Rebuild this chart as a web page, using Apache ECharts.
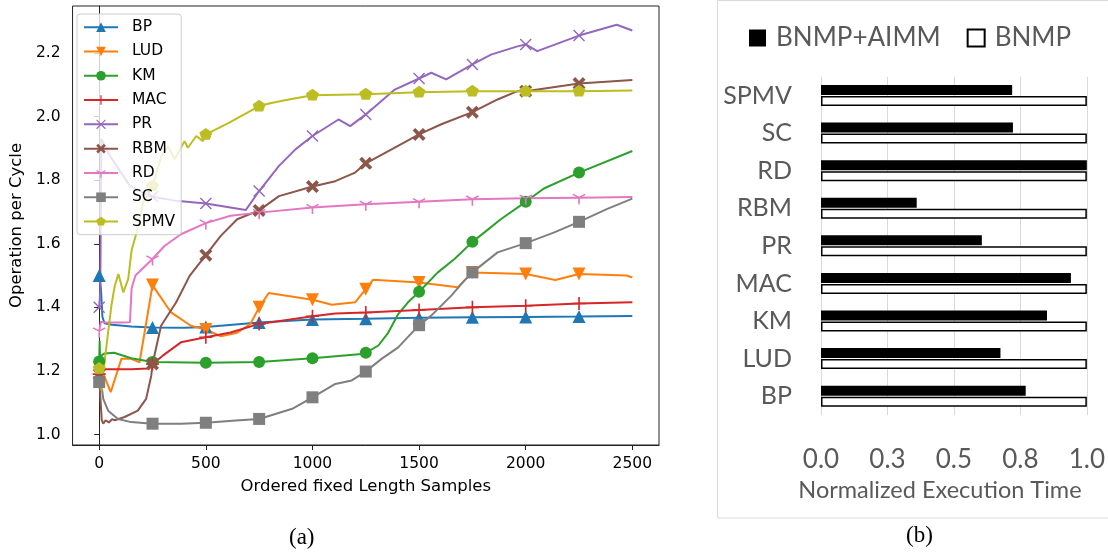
<!DOCTYPE html>
<html>
<head>
<meta charset="utf-8">
<script src="https://cdn.jsdelivr.net/npm/echarts@6/dist/echarts.min.js"></script>
<style>
  html, body { margin: 0; padding: 0; background: #fff; }
  #chart { width: 1108px; height: 556px; }
</style>
</head>
<body>
<div id="chart"></div>
<script>
// ---- (a) Operation per cycle over ordered fixed-length samples: [sample, value] ----
const bpData   = [[0,1.50],[8,1.46],[15,1.37],[25,1.35],[60,1.345],[150,1.34],[250,1.337],[400,1.336],[500,1.338],[750,1.352],[1000,1.362],[1250,1.364],[1500,1.367],[1750,1.369],[2000,1.370],[2250,1.371],[2500,1.373]];
const ludData  = [[0,1.21],[20,1.19],[54,1.133],[104,1.238],[150,1.238],[189,1.227],[220,1.35],[250,1.47],[337,1.384],[430,1.342],[500,1.33],[570,1.309],[647,1.32],[709,1.348],[750,1.40],[795,1.445],[1000,1.424],[1091,1.408],[1200,1.416],[1250,1.457],[1285,1.487],[1500,1.478],[1681,1.463],[1750,1.51],[2000,1.505],[2139,1.486],[2250,1.505],[2473,1.50],[2500,1.494]];
const kmData   = [[0,1.23],[2,1.295],[5,1.215],[12,1.25],[25,1.255],[70,1.257],[150,1.24],[250,1.228],[500,1.226],[750,1.228],[1000,1.24],[1231,1.253],[1250,1.257],[1309,1.28],[1355,1.32],[1402,1.379],[1448,1.416],[1500,1.449],[1588,1.51],[1666,1.552],[1750,1.606],[1805,1.635],[1883,1.677],[2000,1.732],[2085,1.774],[2250,1.824],[2500,1.892]];
const macData  = [[0,1.19],[5,1.205],[50,1.205],[150,1.205],[228,1.208],[250,1.222],[298,1.248],[383,1.29],[500,1.306],[616,1.321],[750,1.348],[1000,1.372],[1107,1.381],[1250,1.384],[1500,1.392],[1750,1.40],[2000,1.405],[2250,1.412],[2500,1.416]];
const prData   = [[0,1.40],[5,1.45],[10,1.93],[15,1.93],[51,1.876],[144,1.782],[237,1.75],[250,1.748],[361,1.735],[500,1.727],[687,1.706],[750,1.766],[843,1.845],[920,1.897],[1000,1.939],[1122,1.991],[1177,1.97],[1250,2.007],[1386,2.085],[1500,2.12],[1557,2.138],[1627,2.117],[1750,2.164],[1837,2.195],[1961,2.221],[2000,2.227],[2054,2.206],[2250,2.255],[2427,2.289],[2500,2.271]];
const rbmData  = [[0,1.19],[5,1.12],[12,1.045],[19,1.034],[30,1.045],[45,1.038],[60,1.048],[73,1.045],[119,1.055],[181,1.075],[220,1.112],[244,1.185],[250,1.222],[290,1.342],[361,1.416],[424,1.499],[500,1.564],[570,1.625],[647,1.677],[750,1.705],[843,1.75],[1000,1.78],[1107,1.797],[1200,1.824],[1250,1.853],[1371,1.897],[1500,1.944],[1604,1.976],[1750,2.014],[1868,2.054],[1961,2.08],[2000,2.08],[2250,2.104],[2500,2.115]];
const rdData   = [[0,1.325],[8,1.355],[30,1.352],[100,1.352],[144,1.353],[152,1.46],[170,1.50],[200,1.52],[250,1.552],[306,1.593],[383,1.63],[500,1.665],[616,1.688],[750,1.698],[1000,1.714],[1250,1.724],[1500,1.732],[1750,1.74],[2000,1.743],[2250,1.745],[2500,1.747]];
const scData   = [[0,1.165],[3,1.24],[8,1.17],[19,1.112],[42,1.075],[88,1.049],[150,1.039],[250,1.034],[383,1.034],[500,1.037],[641,1.044],[750,1.049],[905,1.081],[1000,1.117],[1107,1.159],[1184,1.17],[1250,1.198],[1324,1.238],[1402,1.274],[1500,1.344],[1557,1.374],[1650,1.436],[1712,1.484],[1750,1.51],[1868,1.573],[2000,1.602],[2131,1.635],[2250,1.669],[2380,1.709],[2500,1.742]];
const spmvData = [[0,1.208],[5,1.18],[11,1.138],[20,1.20],[34,1.279],[57,1.405],[73,1.468],[90,1.505],[113,1.447],[136,1.489],[152,1.58],[175,1.635],[206,1.73],[250,1.782],[292,1.876],[323,1.907],[354,1.866],[400,1.923],[416,1.902],[455,1.939],[486,1.923],[500,1.944],[610,1.981],[750,2.033],[796,2.041],[889,2.054],[1000,2.067],[1250,2.07],[1500,2.077],[1750,2.08],[2000,2.08],[2250,2.08],[2500,2.082]];

const xTicksA = [0, 500, 1000, 1500, 2000, 2500];
const yTicksA = [1.0, 1.2, 1.4, 1.6, 1.8, 2.0, 2.2];

// ---- (b) Normalized execution time per benchmark ----
const benchmarks   = ['BP', 'LUD', 'KM', 'MAC', 'PR', 'RBM', 'RD', 'SC', 'SPMV'];
const withAimm     = [0.77, 0.675, 0.85, 0.94, 0.605, 0.36, 1.0, 0.722, 0.719];
const baseline     = [1.0, 1.0, 1.0, 1.0, 1.0, 1.0, 1.0, 1.0, 1.0];
const xTicksB      = [0, 0.25, 0.5, 0.75, 1.0];

// Marker shapes (matplotlib-style)
const SYM = {
  triUp:   'triangle',
  triDown: 'path://M-6,-5L6,-5L0,5Z',
  circle:  'circle',
  plus:    'path://M-0.75,-6H0.75V-0.75H6V0.75H0.75V6H-0.75V0.75H-6V-0.75H-0.75Z',
  x:       'path://M-6,-5L-5,-6L0,-1L5,-6L6,-5L1,0L6,5L5,6L0,1L-5,6L-6,5L-1,0Z',
  bigX:    'path://M-6,-3.6L-3.6,-6L0,-2.4L3.6,-6L6,-3.6L2.4,0L6,3.6L3.6,6L0,2.4L-3.6,6L-6,3.6L-2.4,0Z',
  tri1:    'path://M-0.7,0H0.7V6H-0.7Z M0.35,-0.606L-4.85,-3.606L-5.55,-2.394L-0.35,0.606Z M-0.35,-0.606L4.85,-3.606L5.55,-2.394L0.35,0.606Z M0,-6L0.01,-6L0,-6Z',
  rect:    'rect',
  pent:    'path://M0,-6L5.7,-1.85L3.53,4.85L-3.53,4.85L-5.7,-1.85Z M0,6L0.01,6L0,6Z'
};

const lineSpecs = [
  { name: 'BP',   data: bpData,   color: '#1f77b4', symbol: SYM.triUp,   size: 13 },
  { name: 'LUD',  data: ludData,  color: '#ff7f0e', symbol: SYM.triDown, size: 13 },
  { name: 'KM',   data: kmData,   color: '#2ca02c', symbol: SYM.circle,  size: 12 },
  { name: 'MAC',  data: macData,  color: '#d62728', symbol: SYM.plus,    size: 13 },
  { name: 'PR',   data: prData,   color: '#9467bd', symbol: SYM.x,       size: 12 },
  { name: 'RBM',  data: rbmData,  color: '#8c564b', symbol: SYM.bigX,    size: 13 },
  { name: 'RD',   data: rdData,   color: '#e377c2', symbol: SYM.tri1,    size: 13 },
  { name: 'SC',   data: scData,   color: '#7f7f7f', symbol: SYM.rect,    size: 12 },
  { name: 'SPMV', data: spmvData, color: '#bcbd22', symbol: SYM.pent,    size: 13 }
];

// markers every 250 samples, up to (not including) the final sample
function withMarkers(points) {
  return points.map(p => (p[0] % 250 === 0 && p[0] < 2500)
    ? { value: p }
    : { value: p, symbol: 'none' });
}

const lineSeries = lineSpecs.map(s => ({
  type: 'line',
  name: s.name,
  xAxisIndex: 0,
  yAxisIndex: 0,
  data: withMarkers(s.data),
  symbol: s.symbol,
  symbolSize: s.size,
  showAllSymbol: true,
  color: s.color,
  lineStyle: { color: s.color, width: 2 },
  itemStyle: { color: s.color, borderWidth: 0 },
  emphasis: { disabled: true }
}));

const barSeries = [
  {
    type: 'bar', name: 'BNMP+AIMM', xAxisIndex: 1, yAxisIndex: 1,
    data: withAimm, barWidth: 10, barGap: '10%',
    itemStyle: { color: '#000' }
  },
  {
    type: 'bar', name: 'BNMP', xAxisIndex: 1, yAxisIndex: 1,
    data: baseline, barWidth: 10, barGap: '10%',
    itemStyle: { color: '#fff', borderColor: '#000', borderWidth: 1.5 }
  }
];

const mplFont = 'DejaVu Sans';
const officeFont = 'Lato';
const gray = '#595959';

const chart = echarts.init(document.getElementById('chart'), null, { renderer: 'canvas' });
chart.setOption({
  animation: false,
  backgroundColor: '#fff',
  grid: [
    { left: 69, right: 449, top: 6, bottom: 111, show: true, borderColor: '#222', borderWidth: 1, backgroundColor: 'transparent' },
    { left: 821, right: 20.3, top: 76.7, bottom: 141 }
  ],
  xAxis: [
    {
      type: 'value', gridIndex: 0, min: -125, max: 2625,
      name: 'Ordered fixed Length Samples', nameLocation: 'middle', nameGap: 33,
      nameTextStyle: { fontFamily: mplFont, fontSize: 16.5, color: '#000' },
      axisLine: { show: true, lineStyle: { color: '#222', width: 1 } },
      axisTick: { show: true, length: 5, customValues: xTicksA, lineStyle: { color: '#222' } },
      axisLabel: { customValues: xTicksA, margin: 11, fontFamily: mplFont, fontSize: 15.5, color: '#000',
                   formatter: v => String(v) },
      splitLine: { show: false }
    },
    {
      type: 'value', gridIndex: 1, min: 0, max: 1, interval: 0.25,
      name: 'Normalized Execution Time', nameLocation: 'middle', nameGap: 63,
      nameTextStyle: { fontFamily: officeFont, fontSize: 23.5, color: gray, padding: [0, 28, 0, 0] },
      axisLine: { show: false },
      axisTick: { show: false },
      axisLabel: { margin: 32, fontFamily: officeFont, fontSize: 26, color: gray,
                   formatter: v => v.toFixed(1) },
      splitLine: { show: true, lineStyle: { color: '#d9d9d9', width: 1 } }
    }
  ],
  yAxis: [
    {
      type: 'value', gridIndex: 0, min: 0.967, max: 2.348,
      name: 'Operation per Cycle', nameLocation: 'middle', nameGap: 46,
      nameTextStyle: { fontFamily: mplFont, fontSize: 16.5, color: '#000' },
      axisLine: { show: true, lineStyle: { color: '#222', width: 1 } },
      axisTick: { show: true, length: 5, customValues: yTicksA, lineStyle: { color: '#222' } },
      axisLabel: { customValues: yTicksA, margin: 12, fontFamily: mplFont, fontSize: 15.5, color: '#000',
                   formatter: v => v.toFixed(1) },
      splitLine: { show: false }
    },
    {
      type: 'category', gridIndex: 1, data: benchmarks,
      axisLine: { show: false },
      axisTick: { show: false },
      axisLabel: { margin: 29, fontFamily: officeFont, fontSize: 25, color: gray },
      splitLine: { show: false }
    }
  ],
  legend: [
    {
      data: lineSpecs.map(s => s.name),
      orient: 'vertical', left: 77, top: 14,
      padding: [5, 6, 5, 6],
      itemWidth: 34, itemHeight: 12, itemGap: 8,
      backgroundColor: 'rgba(255,255,255,0.8)',
      borderColor: '#cccccc', borderWidth: 1, borderRadius: 3,
      textStyle: { fontFamily: mplFont, fontSize: 15.5, color: '#000', lineHeight: 16.3, padding: [0, 0, 0, 9] },
      selectedMode: false
    },
    {
      data: ['BNMP+AIMM', 'BNMP'],
      orient: 'horizontal', left: 744, top: 20,
      itemWidth: 17, itemHeight: 17, itemGap: 26,
      icon: 'rect',
      textStyle: { fontFamily: officeFont, fontSize: 26, color: gray, padding: [0, 0, 0, 5] },
      selectedMode: false
    }
  ],
  graphic: [
    { type: 'rect', z: -1, silent: true,
      shape: { x: 717.5, y: 0.5, width: 420, height: 517.5 },
      style: { fill: 'none', stroke: '#d9d9d9', lineWidth: 1 } },
    { type: 'text', left: 289, top: 526, silent: true,
      style: { text: '(a)', fontFamily: 'Liberation Serif', fontSize: 23, fill: '#000' } },
    { type: 'text', left: 906, top: 524, silent: true,
      style: { text: '(b)', fontFamily: 'Liberation Serif', fontSize: 23, fill: '#000' } }
  ],
  series: [...lineSeries, ...barSeries]
});
</script>
</body>
</html>
